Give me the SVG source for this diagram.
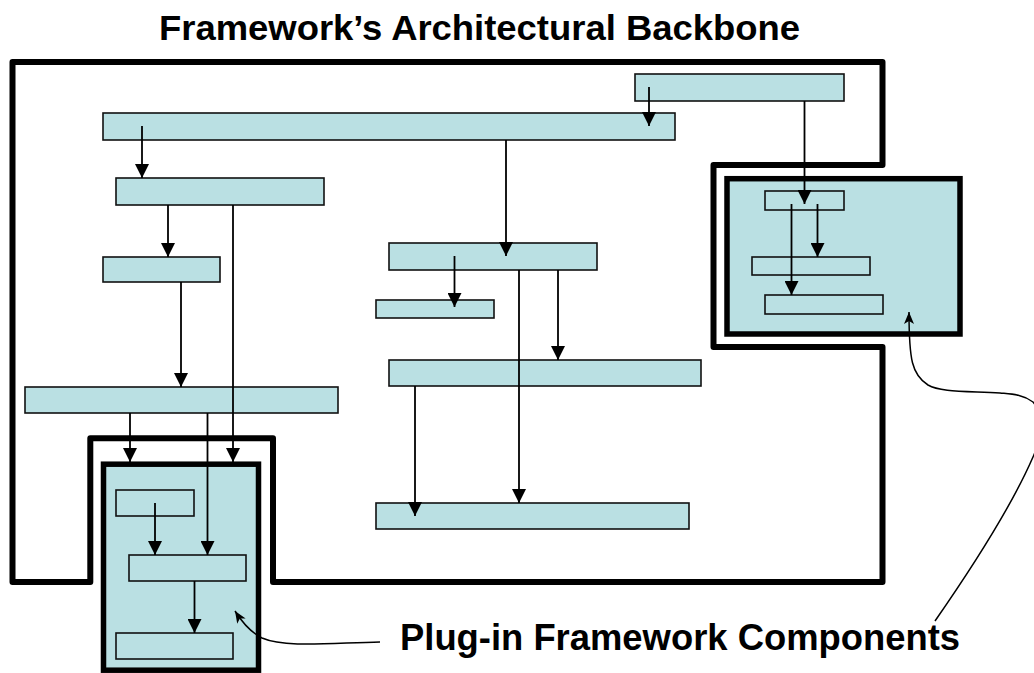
<svg xmlns="http://www.w3.org/2000/svg" width="1034" height="673" viewBox="0 0 1034 673">
<style>
.node{fill:#BAE0E3;stroke:#111;stroke-width:1.6}
.plug{fill:#BAE0E3;stroke:#000;stroke-width:5.5}
.frame{fill:none;stroke:#000;stroke-width:6;stroke-linejoin:round}
.conn{stroke:#000;stroke-width:1.8;fill:none}
.curve{stroke:#000;stroke-width:1.5;fill:none}
.t{font-family:"Liberation Sans",Arial,Helvetica,sans-serif;font-weight:bold;fill:#000}
</style>
<defs>
<marker id="ah" markerUnits="userSpaceOnUse" viewBox="0 0 14 14" markerWidth="14" markerHeight="14" refX="14" refY="7" orient="auto">
<path d="M0,0 L14,7 L0,14 z" fill="#000"/>
</marker>
<marker id="ca" markerUnits="userSpaceOnUse" viewBox="0 0 12 10" markerWidth="12" markerHeight="10" refX="12" refY="5" orient="auto">
<path d="M0,0 L12,5 L0,10 L3,5 z" fill="#000"/>
</marker>
</defs>
<rect width="1034" height="673" fill="#fff"/>
<text class="t" x="159" y="39.5" font-size="35" textLength="641" lengthAdjust="spacingAndGlyphs">Framework’s Architectural Backbone</text>
<g id="backbone">
<path class="frame" d="M12.5,62 H882.5 V165 H713.5 V347 H882.5 V582 H273 V438.3 H90.3 V582 H12.5 Z"/>
</g>
<g id="plugin-right"><rect class="plug" x="727" y="178.7" width="233" height="155.3"/></g>
<g id="plugin-left"><rect class="plug" x="103.5" y="464.2" width="155" height="206"/></g>
<g id="nA"><rect class="node" x="103" y="113" width="572" height="27"/></g>
<g id="nB"><rect class="node" x="116" y="178" width="208" height="27"/></g>
<g id="nC"><rect class="node" x="103" y="257" width="117" height="25"/></g>
<g id="nD"><rect class="node" x="389" y="243" width="208" height="27"/></g>
<g id="nE"><rect class="node" x="376" y="300" width="118" height="18"/></g>
<g id="nF"><rect class="node" x="389" y="360" width="312" height="26"/></g>
<g id="nG"><rect class="node" x="376" y="503" width="313" height="26"/></g>
<g id="nH"><rect class="node" x="635" y="74" width="209" height="27"/></g>
<g id="nI"><rect class="node" x="765" y="191" width="79" height="19"/></g>
<g id="nJ"><rect class="node" x="752" y="257" width="118" height="18"/></g>
<g id="nK"><rect class="node" x="765" y="295" width="118" height="19"/></g>
<g id="nL"><rect class="node" x="25" y="387" width="313" height="26"/></g>
<g id="nM"><rect class="node" x="116" y="490" width="78" height="26"/></g>
<g id="nN"><rect class="node" x="129" y="555" width="117" height="26"/></g>
<g id="nO"><rect class="node" x="116" y="633" width="117" height="26"/></g>
<g id="connectors">
<line class="conn" x1="649" y1="87" x2="649" y2="126" marker-end="url(#ah)"/>
<line class="conn" x1="142" y1="126" x2="142" y2="178" marker-end="url(#ah)"/>
<line class="conn" x1="506" y1="140" x2="506" y2="256" marker-end="url(#ah)"/>
<line class="conn" x1="804.5" y1="101" x2="804.5" y2="204" marker-end="url(#ah)"/>
<line class="conn" x1="168" y1="205" x2="168" y2="257" marker-end="url(#ah)"/>
<line class="conn" x1="233" y1="205" x2="233" y2="462" marker-end="url(#ah)"/>
<line class="conn" x1="181" y1="282" x2="181" y2="387" marker-end="url(#ah)"/>
<line class="conn" x1="454.5" y1="256" x2="454.5" y2="307" marker-end="url(#ah)"/>
<line class="conn" x1="519" y1="270" x2="519" y2="503" marker-end="url(#ah)"/>
<line class="conn" x1="558" y1="270" x2="558" y2="360" marker-end="url(#ah)"/>
<line class="conn" x1="415" y1="386" x2="415" y2="516" marker-end="url(#ah)"/>
<line class="conn" x1="817.5" y1="204" x2="817.5" y2="257" marker-end="url(#ah)"/>
<line class="conn" x1="791.5" y1="204" x2="791.5" y2="295" marker-end="url(#ah)"/>
<line class="conn" x1="130" y1="413" x2="130" y2="462" marker-end="url(#ah)"/>
<line class="conn" x1="207.5" y1="413" x2="207.5" y2="555" marker-end="url(#ah)"/>
<line class="conn" x1="155" y1="503" x2="155" y2="555" marker-end="url(#ah)"/>
<line class="conn" x1="194.5" y1="581" x2="194.5" y2="633" marker-end="url(#ah)"/>
<path class="curve" d="M380,642 C330,643 285,648 262,638 C250,632 242,622 235,611" marker-end="url(#ca)"/>
<path class="curve" d="M935,621 C960,585 1010,510 1033,457 C1042,437 1042,412 1033,402 C1022,394 1010,394 1000,393 C965,391 940,392 928,385 C912,375 909,360 909,312" marker-end="url(#ca)"/>
</g>
<text class="t" x="400" y="649.5" font-size="36" textLength="560" lengthAdjust="spacingAndGlyphs">Plug-in Framework Components</text>
</svg>
